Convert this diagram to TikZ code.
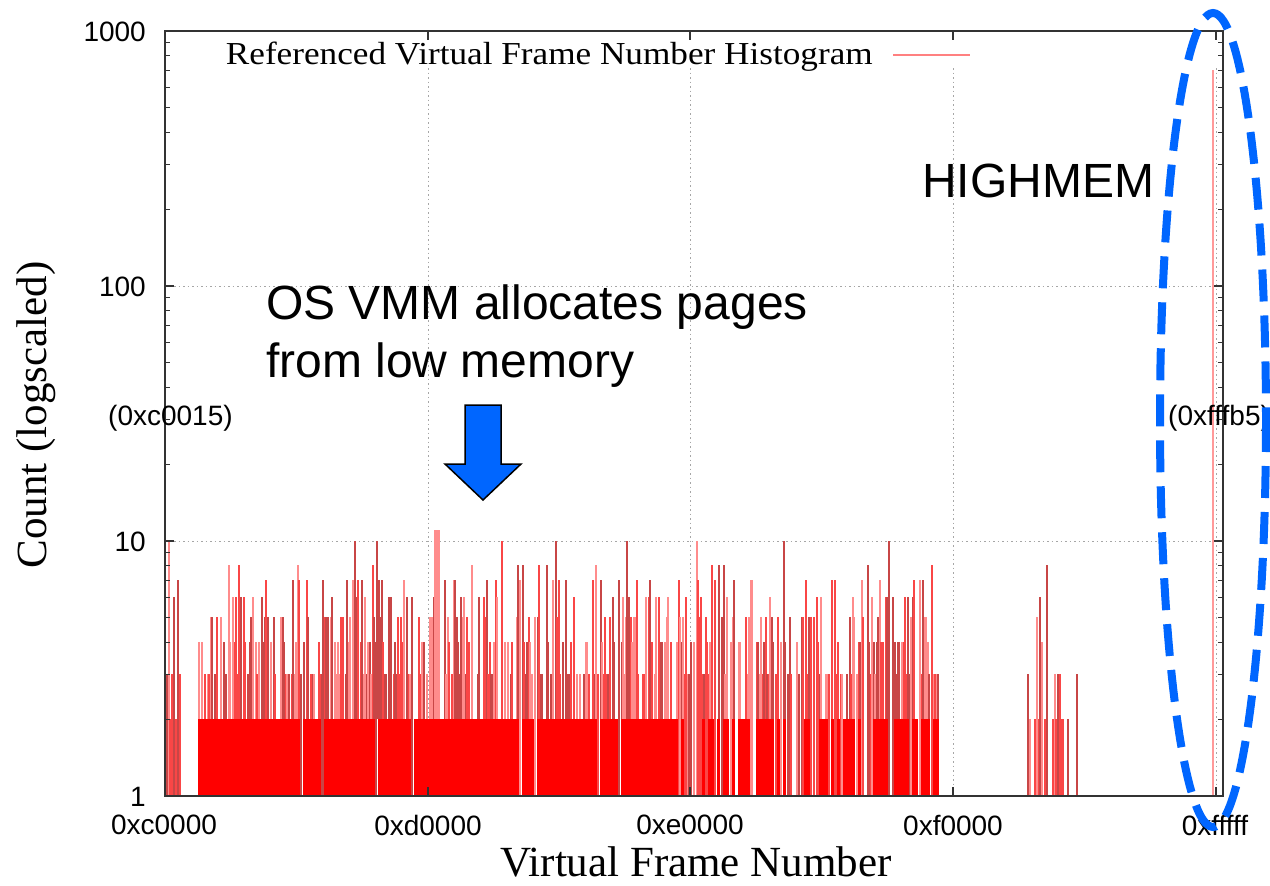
\documentclass[tikz,border=0pt]{standalone}
\usepackage{fontspec}
\setmainfont{Liberation Serif}
\newfontfamily\arial{Liberation Sans}
\definecolor{hlblue}{RGB}{0,102,255}
\definecolor{bc0}{RGB}{255,140,140}
\definecolor{bc1}{RGB}{250,70,70}
\definecolor{bc2}{RGB}{200,70,70}
\tikzset{
  frame/.style={draw=black!80, line width=2pt},
  gridline/.style={draw=black!35, line width=1pt, dash pattern=on 1.5pt off 3pt},
  majtick/.style={draw=black!80, line width=1.5pt},
  mintick/.style={draw=black!80, line width=1.2pt},
  ticklab/.style={font=\arial\fontsize{28}{32}\selectfont, inner sep=0pt},
  serlab/.style={font=\fontsize{43}{50}\selectfont, inner sep=0pt},
  bigsans/.style={font=\arial\fontsize{48}{58}\selectfont, inner sep=0pt},
  basebar/.style={fill=red},
  tallbar/.style={line width=2pt},
  hlarrow/.style={fill=hlblue, draw=black, line width=1.5pt, line join=miter},
  hlellipse/.style={draw=hlblue, line width=8pt, dash pattern=on 32pt off 14pt}
}
\begin{document}
\begin{tikzpicture}[x=1pt,y=-1pt]
\useasboundingbox (0,0) rectangle (1270,886);
\fill[white] (0,0) rectangle (1270,886);
% grid
\draw[gridline] (165,286) -- (1223,286);
\draw[gridline] (165,541) -- (1223,541);
\foreach \gx in {428,690,953,1216}{ \draw[gridline] (\gx,68) -- (\gx,796); }
% histogram bars
\pgfmathsetseed{4242}
\foreach \x in {198,201,...,936}{
  \pgfmathsetmacro{\s}{\x<677 ? 0.05 : (\x<800 ? 0.35 : 0.45)}
  \pgfmathsetmacro{\ra}{rnd}
  \pgfmathsetmacro{\yb}{\ra<\s ? 796 : 719}
  \foreach \dx in {0.8,2.2}{
    \pgfmathsetmacro{\rb}{rnd}
    \pgfmathtruncatemacro{\ci}{int(2.999*rnd)}
    \pgfmathsetmacro{\yt}{\rb<0.22 ? 796 : (\rb<0.45 ? 674 : (\rb<0.63 ? 642 : (\rb<0.76 ? 617 : (\rb<0.86 ? 597 : (\rb<0.95 ? 580 : (\rb<0.99 ? 565 : 541))))))}
    \draw[tallbar, draw=bc\ci] (\x+\dx,796) -- (\x+\dx,\yt);
  }
  \fill[basebar] (\x,796) rectangle (\x+3,\yb);
}
% a few notable tall bars
\fill[bc0] (434,719) rectangle (440,530);
\draw[tallbar, draw=bc2] (377,719) -- (377,541);
\draw[tallbar, draw=bc2] (627,719) -- (627,541);
% left group
\foreach \x/\y/\c in {166/719/bc1,167/674/bc2,169/541/bc0,170/719/bc1,172/674/bc1,174/597/bc2,176/719/bc1,178/580/bc2,180/674/bc1}{
  \draw[tallbar, draw=\c] (\x,796) -- (\x,\y);
}
% right cluster
\foreach \x/\y/\c in {1028/674/bc2,1030/719/bc0,1035/719/bc1,1036/719/bc1,1037/617/bc0,1039/719/bc1,1040/597/bc2,1042/642/bc0,1045/719/bc1,1047/565/bc2,1053/719/bc1,1055/674/bc0,1056/719/bc1,1058/674/bc2,1060/674/bc1,1062/719/bc1,1063/719/bc1,1068/719/bc2,1077/674/bc2}{
  \draw[tallbar, draw=\c] (\x,796) -- (\x,\y);
}
% HIGHMEM spike
\draw[draw=red!40, line width=2pt] (1213,796) -- (1213,70);
% frame and ticks
\draw[frame] (165,31) rectangle (1223,796);
\foreach \yy in {31,286,541,796}{
  \draw[majtick] (165,\yy) -- (174,\yy);
  \draw[majtick] (1223,\yy) -- (1214,\yy);
}
\foreach \ybase in {796,541,286}{
  \foreach \k in {2,...,9}{
    \pgfmathsetmacro{\yy}{\ybase-255*log10(\k)}
    \draw[mintick] (165,\yy) -- (170,\yy);
    \draw[mintick] (1223,\yy) -- (1218,\yy);
  }
}
\foreach \gx in {428,690,953,1216}{
  \draw[majtick] (\gx,796) -- (\gx,787);
  \draw[majtick] (\gx,31) -- (\gx,40);
}
% tick labels
\node[ticklab, anchor=east] (y1000) at (146,32) {1000};
\node[ticklab, anchor=east] (y100) at (146,287) {100};
\node[ticklab, anchor=east] (y10) at (146,542) {10};
\node[ticklab, anchor=east] (y1) at (146,797) {1};
\node[ticklab] (xc) at (164,825) {0xc0000};
\node[ticklab] (xd) at (428,825) {0xd0000};
\node[ticklab] (xe) at (690,825) {0xe0000};
\node[ticklab] (xf) at (953,825) {0xf0000};
\node[ticklab] (xff) at (1215,825) {0xfffff};
% axis titles
\node[serlab, rotate=90] (ytitle) at (36,415) {Count (logscaled)};
\node[serlab] (xtitle) at (696,862) {Virtual Frame Number};
% legend
\node[font=\fontsize{32}{36}\selectfont, inner sep=0pt, anchor=east] (legtext) at (873,57) {\scalebox{1.1}[1]{Referenced Virtual Frame Number Histogram}};
\draw[draw=red!50, line width=1.2pt] (893,55) -- (970,55);
% annotations
\node[ticklab, anchor=west] (lo) at (108,418) {(0xc0015)};
\node[ticklab, anchor=west] (hi) at (1168,418) {(0xfffb5)};
\node[bigsans, anchor=base west] (os1) at (266,319) {OS VMM allocates pages};
\node[bigsans, anchor=base west] (os2) at (266,377) {from low memory};
\node[bigsans, anchor=base west] (hm) at (922,197) {HIGHMEM};
\draw[hlarrow] (465,405) -- (501,405) -- (501,464) -- (521,464) -- (483,500) -- (445,464) -- (465,464) -- cycle;
\draw[hlellipse] (1213,420) ellipse [x radius=53, y radius=407];
\end{tikzpicture}
\end{document}
